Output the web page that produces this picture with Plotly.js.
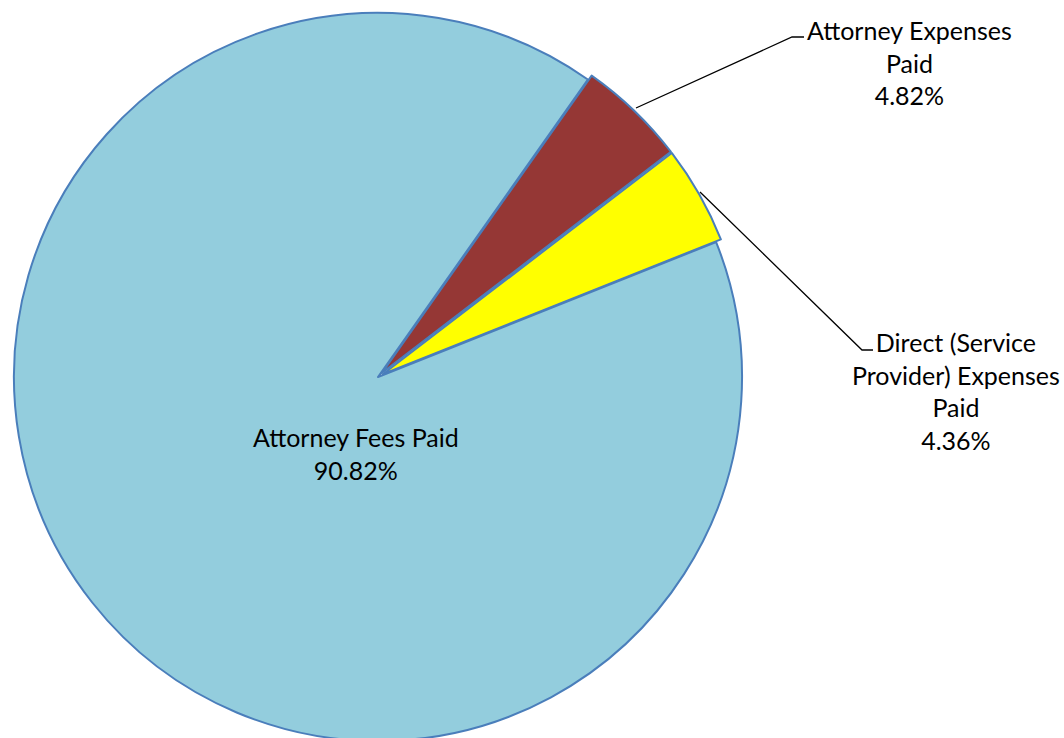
<!DOCTYPE html>
<html>
<head>
<meta charset="utf-8">
<script src="https://cdn.plot.ly/plotly-3.0.1.min.js"></script>
<style>
html,body{margin:0;padding:0;overflow:hidden;background:#fff;}
#chart{width:1064px;height:750px;}
</style>
</head>
<body>
<div id="chart"></div>
<script>
// Data
var categories = ["Attorney Expenses Paid", "Direct (Service Provider) Expenses Paid", "Attorney Fees Paid"];
var labelLines = [["Attorney Expenses", "Paid"], ["Direct (Service", "Provider) Expenses", "Paid"], ["Attorney Fees Paid"]];
var values = [4.82, 4.36, 90.82];
var colors = ["#953735", "#FFFF00", "#93CDDD"];

var W = 1064, H = 750;
function px(x){ return x / W; }
function py(y){ return 1 - y / H; }

var trace = {
  type: "pie",
  labels: categories,
  values: values,
  sort: false,
  direction: "clockwise",
  rotation: 35.2,
  pull: [0.015, 0.015, 0],
  textinfo: "none",
  hoverinfo: "label+percent",
  marker: { colors: colors, line: { color: "#4A7EBB", width: 2 } },
  domain: { x: [px(378 - 369.5), px(378 + 369.5)], y: [py(377 + 369.5), py(377 - 369.5)] },
  showlegend: false
};

function labelText(i){
  return labelLines[i].join("<br>") + "<br>" + values[i].toFixed(2) + "%";
}

var font = { family: "Lato, 'Liberation Sans', sans-serif", size: 25, color: "#000" };
var annPos = [[909, 62], [956, 391], [356, 453]];
var annotations = annPos.map(function(p, i){
  return { xref: "paper", yref: "paper", x: px(p[0]), y: py(p[1]), xanchor: "center", yanchor: "middle",
           text: labelText(i), showarrow: false, font: font, align: "center" };
});

var leaders = [[[636,108],[792,37],[804,37]], [[700,192],[862,350],[873,350]]];
var shapes = leaders.map(function(pts){
  var d = pts.map(function(p, k){ return (k ? "L" : "M") + px(p[0]) + "," + py(p[1]); }).join(" ");
  return { type: "path", xref: "paper", yref: "paper", path: d, line: { color: "#000", width: 1.3 } };
});

var layout = {
  width: W, height: H,
  margin: { l: 0, r: 0, t: 0, b: 0 },
  paper_bgcolor: "#fff",
  annotations: annotations,
  shapes: shapes
};

Plotly.newPlot("chart", [trace], layout, { displayModeBar: false, staticPlot: true });
</script>
</body>
</html>
